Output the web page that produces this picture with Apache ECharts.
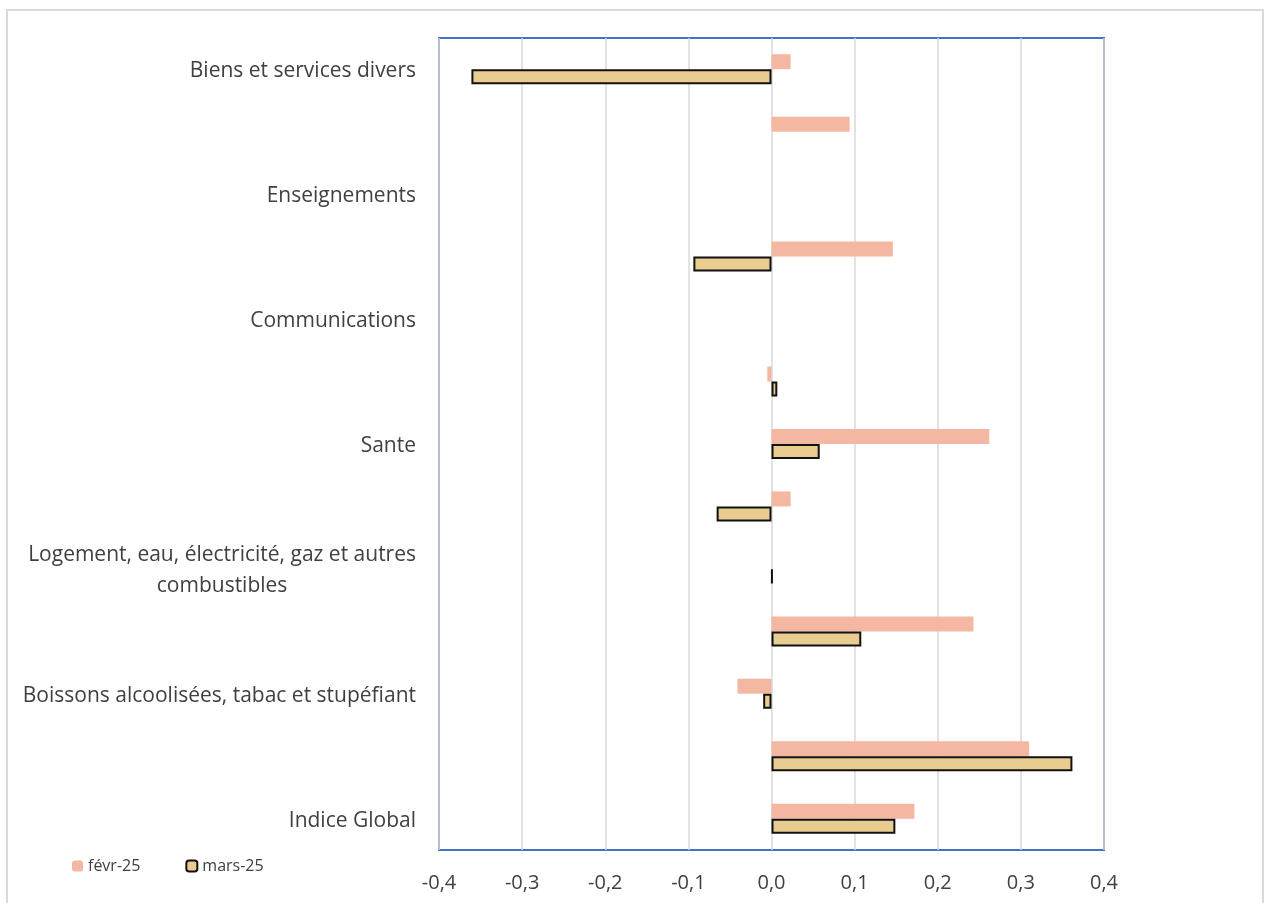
<!DOCTYPE html>
<html>
<head>
<meta charset="utf-8">
<script src="https://cdn.jsdelivr.net/npm/echarts@6/dist/echarts.min.js"></script>
<style>
html,body{margin:0;padding:0;background:#fff;}
#chart{width:1266px;height:903px;}
</style>
</head>
<body>
<div id="chart"></div>
<script>
var categories = [
  "Indice Global",
  "Produits alimentaires et boissons non alcoolisées",
  "Boissons alcoolisées, tabac et stupéfiant",
  "Articles d'habillement et chaussures",
  "Logement, eau, électricité, gaz et autres combustibles",
  "Meubles, articles de ménage et entretien courant du foyer",
  "Sante",
  "Transports",
  "Communications",
  "Loisirs et culture",
  "Enseignements",
  "Restaurants et hôtels",
  "Biens et services divers"
];
var fevr25 = [0.172, 0.310, -0.041, 0.243, null, 0.023, 0.262, -0.005, null, 0.146, null, 0.094, 0.023];
var mars25 = [0.149, 0.362, -0.010, 0.108, 0.001, -0.066, 0.058, 0.007, null, -0.094, null, null, -0.361];
var seriesNames = ["févr-25", "mars-25"];
var xTicks = {min: -0.4, max: 0.4, interval: 0.1};

var chart = echarts.init(document.getElementById('chart'));
var FONT = 'Open Sans';
chart.setOption({
  animation: false,
  backgroundColor: '#ffffff',
  textStyle: {fontFamily: FONT},
  graphic: [{
    type: 'rect',
    shape: {x: 7, y: 10, width: 1256, height: 900},
    style: {fill: 'none', stroke: '#D9D9D9', lineWidth: 2},
    silent: true
  }],
  legend: {
    left: 67, top: 853,
    itemWidth: 11, itemHeight: 11, itemGap: 45,
    textStyle: {fontSize: 16, color: '#404040', fontFamily: FONT},
    data: seriesNames
  },
  grid: {left: 439, right: 162, top: 38, bottom: 53, show: true,
         borderColor: '#4472C4', borderWidth: 2, containLabel: false},
  xAxis: {
    type: 'value', min: xTicks.min, max: xTicks.max, interval: xTicks.interval,
    axisLine: {show: false}, axisTick: {show: false},
    splitLine: {show: true, lineStyle: {color: '#D9D9D9', width: 1.5}},
    axisLabel: {fontSize: 20, color: '#404040', margin: 23, fontFamily: FONT,
      formatter: function (v) { return v.toFixed(1).replace('.', ','); }}
  },
  yAxis: {
    type: 'category', data: categories,
    axisLine: {show: false}, axisTick: {show: false},
    axisLabel: {
      interval: 1, margin: 23, fontSize: 21, color: '#404040', fontFamily: FONT,
      padding: [4, 0, 0, 0],
      formatter: function (v) {
        if (v.indexOf('Logement') === 0) {
          return '{a|Logement, eau, électricité, gaz et autres}\n{c|combustibles}';
        }
        return v;
      },
      rich: {
        a: {fontSize: 21, color: '#404040', fontFamily: FONT, lineHeight: 31},
        c: {fontSize: 21, color: '#404040', fontFamily: FONT, lineHeight: 31, align: 'center'}
      }
    }
  },
  series: [
    {
      name: seriesNames[0], type: 'bar', data: fevr25,
      barWidth: 15, barGap: '0%',
      itemStyle: {color: '#F4B8A2'}
    },
    {
      name: seriesNames[1], type: 'bar', data: mars25,
      barWidth: 15, barGap: '0%',
      itemStyle: {color: '#E9CD90', borderColor: '#111111', borderWidth: 2}
    }
  ]
});
</script>
</body>
</html>
